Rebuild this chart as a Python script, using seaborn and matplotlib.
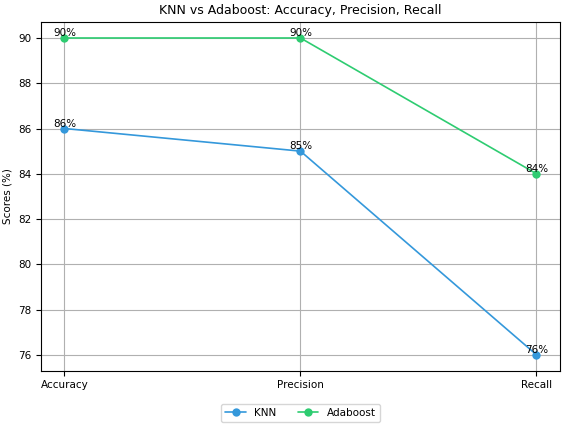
import matplotlib
matplotlib.use("Agg")
import matplotlib.pyplot as plt
import seaborn as sns
import pandas as pd

metrics = ["Accuracy", "Precision", "Recall"]
knn_scores = [86, 85, 76]
ada_scores = [90, 90, 84]

df = pd.DataFrame({
    "Metric": metrics * 2,
    "Score": knn_scores + ada_scores,
    "Model": ["KNN"] * 3 + ["Adaboost"] * 3,
})

sns.set_style("white", {"text.color": "black", "axes.labelcolor": "black",
                        "xtick.color": "black", "ytick.color": "black",
                        "xtick.bottom": True, "ytick.left": True})
fig, ax = plt.subplots(figsize=(5.68, 4.26), dpi=100)
palette = {"KNN": "#3498db", "Adaboost": "#2ecc71"}
sns.lineplot(data=df, x="Metric", y="Score", hue="Model", palette=palette,
             marker="o", markersize=6, markeredgewidth=0, linewidth=1.2,
             sort=False, ax=ax)

for i, m in enumerate(metrics):
    ax.text(i, knn_scores[i], f"{knn_scores[i]}%", ha="center", va="bottom", fontsize=7.5, color="black")
    ax.text(i, ada_scores[i], f"{ada_scores[i]}%", ha="center", va="bottom", fontsize=7.5, color="black")

ax.set_title("KNN vs Adaboost: Accuracy, Precision, Recall", fontsize=9, color="black")
ax.set_xlabel("")
ax.set_ylabel("Scores (%)", fontsize=7.5, color="black")
ax.tick_params(labelsize=7.5, colors="black", length=3.5, width=0.8, bottom=True, left=True)
ax.grid(True, color="#b0b0b0", linewidth=0.8)
for s in ax.spines.values():
    s.set_color("black")
    s.set_linewidth(0.8)
ax.legend(loc="upper center", bbox_to_anchor=(0.5, -0.08), ncol=2, fontsize=7.5, title=None)
fig.subplots_adjust(left=0.072, right=0.986, top=0.948, bottom=0.13)
fig.savefig("out.png", dpi=100)
